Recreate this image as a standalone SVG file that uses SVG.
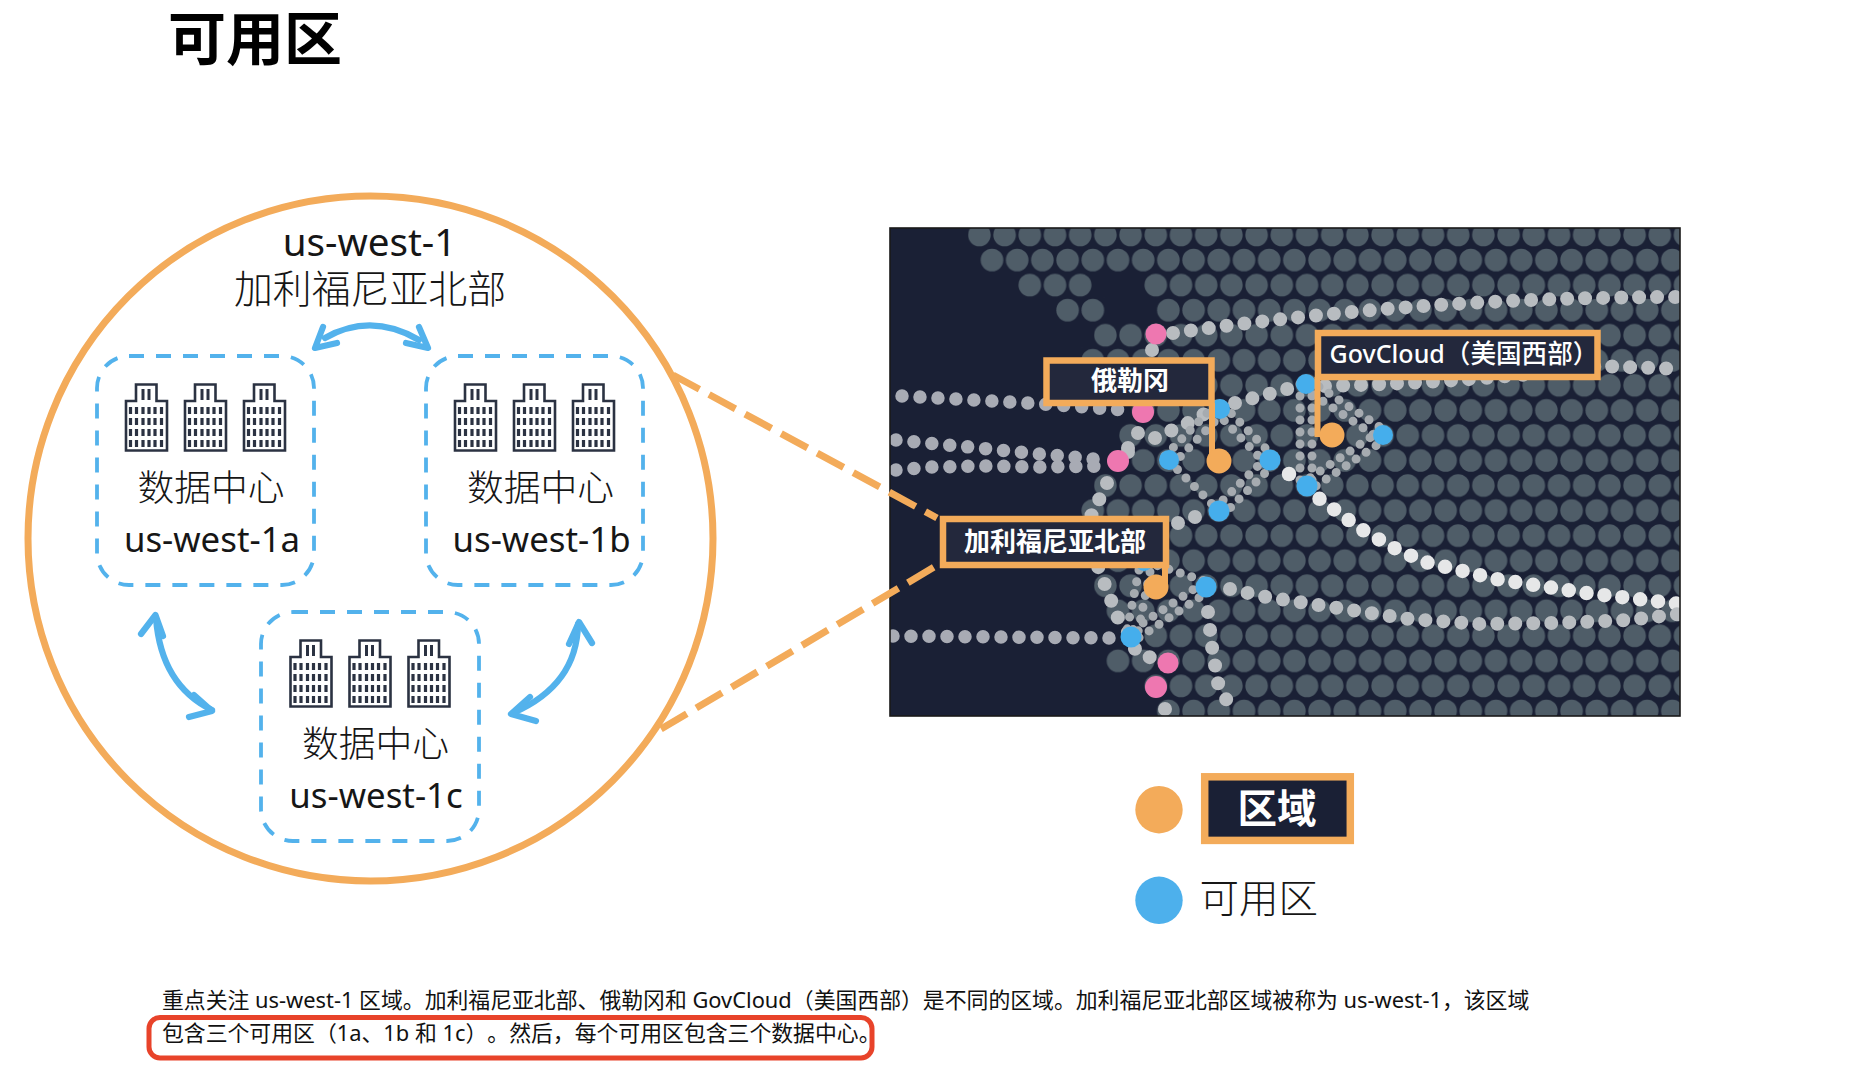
<svg xmlns="http://www.w3.org/2000/svg" xmlns:xlink="http://www.w3.org/1999/xlink" width="1868" height="1072" viewBox="0 0 1868 1072">
<style>
text{font-family:"Noto Sans","Noto Sans CJK SC",sans-serif;fill:#161616;text-spacing-trim:space-all}
.c{text-anchor:middle}
.big{font-size:38.6px}
.dc{font-size:36.8px;font-weight:300}
.az{font-size:34.8px}
.body{font-size:21.85px;fill:#111}
.lab{fill:#23283c;stroke:#f3ab5a;stroke-width:6.5}
.labt{fill:#fff;font-weight:700;font-size:26px;text-anchor:middle}
.lead{fill:none;stroke:#f3ab5a;stroke-width:6}
.box{fill:none;stroke:#53b2ec;stroke-width:3.8;stroke-dasharray:15 12}
.arr{fill:none;stroke:#53b2ec;stroke-width:6.2;stroke-linecap:round;stroke-linejoin:round}
.zoomline{fill:none;stroke:#f3ab5a;stroke-width:7;stroke-dasharray:30 11}
.dg{fill:none;stroke:#a8abb4;stroke-width:13.5;stroke-linecap:round;stroke-dasharray:0 18}
.dm{fill:none;stroke:#b8bcc0;stroke-width:14;stroke-linecap:round;stroke-dasharray:0 18}
.dw{fill:none;stroke:#e6e7e8;stroke-width:14.5;stroke-linecap:round;stroke-dasharray:0 18}
.ds{fill:none;stroke:#a6abb0;stroke-width:9;stroke-linecap:round;stroke-dasharray:0 12}
.o{fill:#f3ab5a}.b{fill:#45aeec}.p{fill:#ee77b0}
.wall{fill:#fff;stroke:#2b3242;stroke-width:2.6}
.win{fill:none;stroke:#2b3242;stroke-width:3.2;stroke-dasharray:7 4}
.twin{fill:none;stroke:#2b3242;stroke-width:3}
</style>
<defs>
<pattern id="grid" patternUnits="userSpaceOnUse" x="966.8" y="222.475" width="25.2" height="50.1">
<circle cx="12.6" cy="12.525" r="11.3" fill="#4f5d68"/>
<circle cx="0" cy="37.575" r="11.3" fill="#4f5d68"/>
<circle cx="25.2" cy="37.575" r="11.3" fill="#4f5d68"/>
</pattern>
<clipPath id="mapclip"><rect x="890" y="228" width="790" height="488"/></clipPath>
<g id="bld">
<path class="wall" d="M1.5,67.5V18H11.5V1.5H32V18H42.5V67.5Z"/>
<path class="win" d="M6,24V64M12,24V64M18.500,24V64M24.500,24V64M30.500,24V64M37,24V64"/>
<path class="twin" d="M18.500,6V17M24.500,6V17"/>
</g>
</defs>
<rect width="1868" height="1072" fill="#fff"/>
<text id="title" x="168" y="60" style="font-size:58px;font-weight:700;fill:#000">可用区</text>

<g id="map">
<rect x="890" y="228" width="790" height="488" fill="#1a2035"/>
<g clip-path="url(#mapclip)" fill="url(#grid)">
<rect x="968" y="222.500" width="712" height="25"/>
<rect x="980" y="247.550" width="700" height="25"/>
<rect x="1018" y="272.600" width="74" height="25"/>
<rect x="1144" y="272.600" width="536" height="25"/>
<rect x="1056" y="297.650" width="49" height="25"/>
<rect x="1156" y="297.650" width="524" height="25"/>
<rect x="1094" y="322.700" width="586" height="25"/>
<rect x="1081" y="347.750" width="599" height="25"/>
<rect x="1105" y="372.800" width="575" height="25"/>
<rect x="1131" y="397.850" width="549" height="25"/>
<rect x="1119" y="422.900" width="561" height="25"/>
<rect x="1131" y="447.950" width="549" height="25"/>
<rect x="1094" y="473" width="586" height="25"/>
<rect x="1081" y="498.050" width="599" height="25"/>
<rect x="1094" y="523.100" width="586" height="25"/>
<rect x="1105" y="548.150" width="575" height="25"/>
<rect x="1094" y="573.200" width="586" height="25"/>
<rect x="1106" y="598.250" width="574" height="25"/>
<rect x="1144" y="623.300" width="536" height="25"/>
<rect x="1106" y="648.350" width="574" height="25"/>
<rect x="1144" y="673.400" width="536" height="25"/>
<rect x="1156" y="698.450" width="524" height="25"/>
</g>
<g clip-path="url(#mapclip)">
<path class="dm" d="M1173,333Q1300,315 1424,306T1690,297"/>
<path class="dm" d="M1152,350V352"/>
<path class="dg" d="M902,396L1029,403L1125,410"/>
<path class="dm" d="M1235,403L1306,384"/>
<path class="dm" d="M1325,386Q1480,382 1600,366L1680,369"/>
<path class="dg" d="M896,440L969,447L1040,454L1105,460"/>
<path class="dg" d="M896,470L932,467L985,466L1037,467L1105,466"/>
<path class="dm" d="M1128,448L1138,433"/>
<path class="dm" d="M1155,438L1188,423L1206,413"/>
<path class="dm" d="M1128,452V453"/>
<path class="dm" d="M1107,483L1100,498L1092,512L1088,540L1105,585L1118,618L1131,637L1136,652L1152,658"/>
<path class="dm" d="M1178,523L1195,517"/>
<path class="dw" d="M1289,474V475"/>
<path class="dw" d="M1307,486L1317,497L1361,529L1392,547L1425,562L1496,579L1586,593L1680,604"/>
<path class="dm" d="M1230,589L1266,597L1338,608L1409,619L1481,624L1555,623L1628,620L1680,614"/>
<path class="dg" d="M893,636L1000,637L1112,638"/>
<path class="dm" d="M1208,612L1212,647L1218,683L1233,713"/>
<path class="dm" d="M1165,709V710"/>
<path class="ds" d="M1223,405L1274,457"/>
<path class="ds" d="M1216,412L1267,465"/>
<path class="ds" d="M1266,458L1216,507"/>
<path class="ds" d="M1273,465L1223,515"/>
<path class="ds" d="M1169,461L1219,511"/>
<path class="ds" d="M1165,456L1216,404"/>
<path class="ds" d="M1172,465L1223,413"/>
<path class="ds" d="M1309,380L1386,431"/>
<path class="ds" d="M1303,388L1380,439"/>
<path class="ds" d="M1380,431L1304,482"/>
<path class="ds" d="M1386,439L1310,490"/>
<path class="ds" d="M1300,384V486"/>
<path class="ds" d="M1312,384V486"/>
<path class="ds" d="M1150,572L1137,637"/>
<path class="ds" d="M1139,570L1126,635"/>
<path class="ds" d="M1203,583L1128,633"/>
<path class="ds" d="M1209,591L1134,641"/>
<path class="ds" d="M1146,562L1208,582"/>
<circle class="p" cx="1156" cy="334" r="10.500"/>
<circle class="p" cx="1143" cy="412" r="11"/>
<circle class="p" cx="1118" cy="461" r="11"/>
<circle class="p" cx="1168" cy="663" r="10.500"/>
<circle class="p" cx="1156" cy="687" r="11"/>
<circle class="b" cx="1220" cy="409" r="10"/>
<circle class="b" cx="1169" cy="460" r="10"/>
<circle class="b" cx="1270" cy="460" r="10.500"/>
<circle class="b" cx="1219" cy="511" r="10.500"/>
<circle class="b" cx="1306" cy="384" r="10"/>
<circle class="b" cx="1383" cy="435" r="10"/>
<circle class="b" cx="1307" cy="486" r="10.500"/>
<circle class="b" cx="1144" cy="562" r="9"/>
<circle class="b" cx="1206" cy="587" r="10.500"/>
<circle class="b" cx="1131" cy="637" r="10.500"/>
</g>
<rect x="890" y="228" width="790" height="488" fill="none" stroke="#1a1a1a" stroke-width="1.6"/>
</g>

<g id="connectors">
<path class="zoomline" d="M673,375L937,518"/>
<path class="zoomline" d="M661,729L941,563"/>
<path class="arr" d="M325,338Q371,312 419,340"/>
<path class="arr" d="M323,327L315,348L337,343M419,327L428,348L406,343"/>
<path class="arr" d="M156,618Q161,685 212,710"/>
<path class="arr" d="M141,634L155.500,615L163,636M194,695L212,711L189,717"/>
<path class="arr" d="M578,624Q577,685 513,713"/>
<path class="arr" d="M569,644L579,622L592,643M530,697L511,714L536,721"/>
</g>

<g id="label-oregon">
<rect class="lab" x="1046.500" y="360.500" width="165" height="42.500"/>
<text class="labt" x="1130" y="390">俄勒冈</text>
<path class="lead" d="M1212,403V460"/>
<circle class="o" cx="1219" cy="461" r="12.500"/>
</g>
<g id="label-govcloud">
<rect class="lab" x="1318" y="333" width="279.500" height="44"/>
<text class="labt" x="1464" y="363" style="font-size:25px;font-weight:500">GovCloud<tspan style="font-size:25.6px">（美国西部）</tspan></text>
<path class="lead" d="M1317.500,377V437"/>
<circle class="o" cx="1332" cy="435" r="12.500"/>
</g>
<g id="label-california">
<rect class="lab" x="943" y="519" width="223" height="46"/>
<text class="labt" x="1055" y="551">加利福尼亚北部</text>
<path class="lead" d="M1165,565V590"/>
<circle class="o" cx="1156" cy="587" r="12.500"/>
</g>

<g id="region">
<circle cx="370.500" cy="538.500" r="342.500" fill="none" stroke="#f3ab5a" stroke-width="7"/>
<text class="c big" x="369.500" y="256">us-west-1</text>
<text class="c big" x="370" y="303" style="font-size:38.9px;font-weight:300">加利福尼亚北部</text>
</g>

<g id="az-a">
<rect class="box" x="97" y="356" width="217" height="229" rx="32"/>
<use xlink:href="#bld" href="#bld" x="124.500" y="383"/>
<use xlink:href="#bld" href="#bld" x="183.500" y="383"/>
<use xlink:href="#bld" href="#bld" x="242.500" y="383"/>
<text class="c dc" x="211" y="501">数据中心</text>
<text class="c az" x="212" y="552">us-west-1a</text>
</g>
<g id="az-b">
<rect class="box" x="426" y="356" width="217" height="229" rx="32"/>
<use xlink:href="#bld" href="#bld" x="453.500" y="383"/>
<use xlink:href="#bld" href="#bld" x="512.500" y="383"/>
<use xlink:href="#bld" href="#bld" x="571.500" y="383"/>
<text class="c dc" x="540.500" y="501">数据中心</text>
<text class="c az" x="541.500" y="552">us-west-1b</text>
</g>
<g id="az-c">
<rect class="box" x="261" y="612" width="218" height="229" rx="32"/>
<use xlink:href="#bld" href="#bld" x="289" y="639"/>
<use xlink:href="#bld" href="#bld" x="348" y="639"/>
<use xlink:href="#bld" href="#bld" x="407" y="639"/>
<text class="c dc" x="375.500" y="757">数据中心</text>
<text class="c az" x="376" y="808">us-west-1c</text>
</g>

<g id="legend-region">
<circle class="o" cx="1159" cy="809.700" r="23.700"/>
<rect x="1204.700" y="776.800" width="145.600" height="63.600" fill="#1a2035" stroke="#f3ab5a" stroke-width="7.500"/>
<text class="c" x="1277" y="823" style="fill:#fff;font-weight:700;font-size:39.5px">区域</text>
</g>
<g id="legend-az">
<circle fill="#4db0ec" cx="1159" cy="900.300" r="23.700"/>
<text x="1199.500" y="913" style="font-size:39.5px;font-weight:300">可用区</text>
</g>

<g id="note">
<text class="body" x="162" y="1008">重点关注 us-west-1 区域。加利福尼亚北部、俄勒冈和 GovCloud（美国西部）是不同的区域。加利福尼亚北部区域被称为 us-west-1，该区域</text>
<text class="body" x="162" y="1041">包含三个可用区（1a、1b 和 1c）。然后，每个可用区包含三个数据中心。</text>
<rect x="149" y="1017.500" width="723" height="40.500" rx="11" fill="none" stroke="#e8432a" stroke-width="5"/>
</g>
</svg>
